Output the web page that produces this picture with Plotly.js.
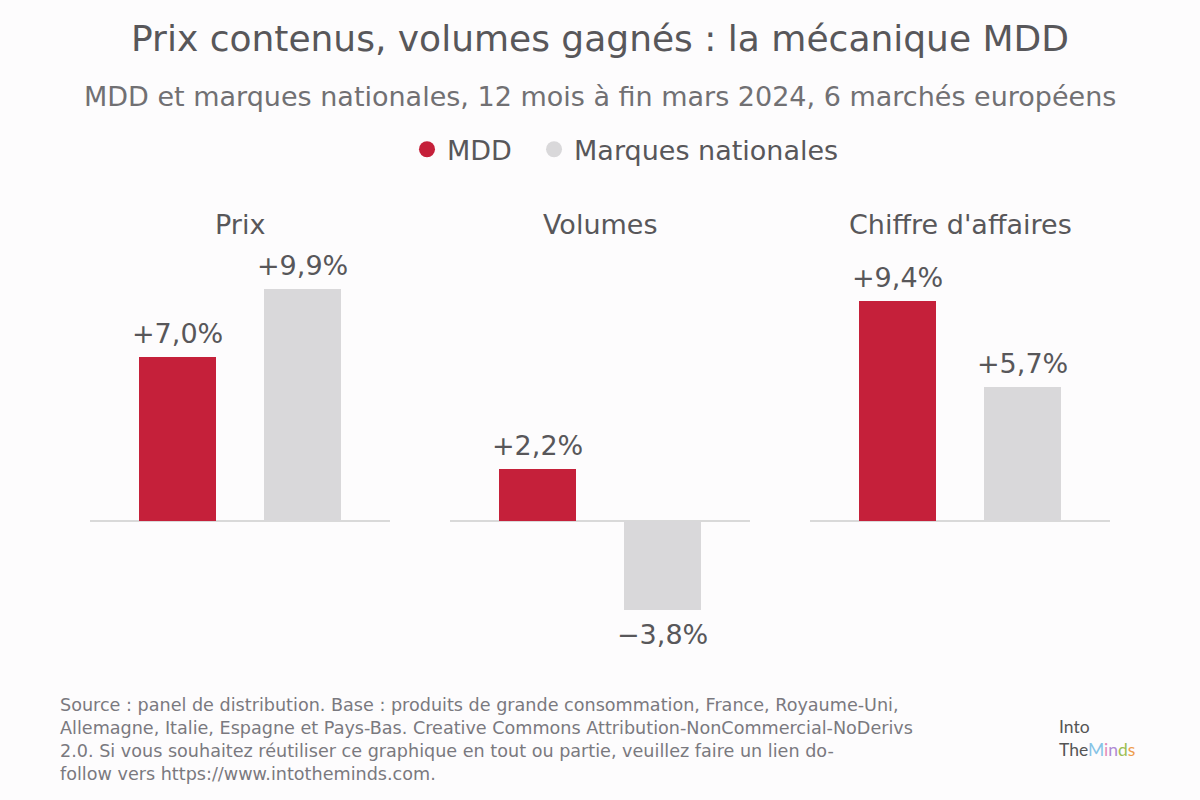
<!DOCTYPE html>
<html>
<head>
<meta charset="utf-8">
<script src="https://cdn.plot.ly/plotly-3.0.1.min.js"></script>
<style>html,body{margin:0;padding:0;background:#fdfcfd;}#chart{width:1200px;height:800px;}</style>
</head>
<body>
<div id="chart"></div>
<script>
const panels = ["Prix", "Volumes", "Chiffre d'affaires"];
const seriesNames = ["MDD", "Marques nationales"];
const mddValues = [7.0, 2.2, 9.4];
const nbValues = [9.9, -3.8, 5.7];
const seriesColors = ["#c5203a", "#d9d8da"];

const W = 1200, H = 800;
const M = {l: 90, r: 90, t: 262.5, b: 149.75};
const plotW = W - M.l - M.r, plotH = H - M.t - M.b;
const px = x => (x - M.l) / plotW;
const py = y => (H - M.b - y) / plotH;

const textColor = "#58575a";
const font = "DejaVu Sans, sans-serif";

function fmt(v) {
  const s = Math.abs(v).toFixed(1).replace(".", ",");
  return (v >= 0 ? "+" : "\u2212") + s + "%";
}

const domains = [[0, px(390)], [px(450), px(750)], [px(810), 1]];
const traces = [];
const annotations = [];
const layout = {
  width: W, height: H,
  margin: M,
  paper_bgcolor: "#fdfcfd",
  plot_bgcolor: "#fdfcfd",
  font: {family: font, color: textColor},
  showlegend: true,
  barmode: "group",
  bargap: 0,
  legend: {
    orientation: "h", x: px(407), xanchor: "left", y: py(149), yanchor: "middle",
    font: {size: 27, color: textColor, family: font}, bgcolor: "rgba(0,0,0,0)",
    itemclick: false, traceorder: "normal"
  },
  annotations: annotations
};

panels.forEach((p, i) => {
  const xa = i === 0 ? "x" : "x" + (i + 1);
  const ya = i === 0 ? "y" : "y" + (i + 1);
  const vals = [mddValues[i], nbValues[i]];
  traces.push({
    type: "bar", x: seriesNames, y: vals, xaxis: xa, yaxis: ya,
    marker: {color: seriesColors}, width: 0.62, showlegend: false,
    hoverinfo: "skip"
  });
  layout["xaxis" + (i === 0 ? "" : i + 1)] = {
    domain: domains[i], anchor: ya, type: "category",
    range: [-0.7, 1.7], showticklabels: false, showgrid: false,
    zeroline: false, showline: false, ticks: "", fixedrange: true
  };
  layout["yaxis" + (i === 0 ? "" : i + 1)] = {
    domain: [0, 1], anchor: xa, range: [-5.5, 11], showticklabels: false,
    showgrid: false, zeroline: true, zerolinecolor: "#d9d9d9", zerolinewidth: 2,
    showline: false, ticks: "", fixedrange: true
  };
  annotations.push({
    xref: "paper", yref: "paper", x: (domains[i][0] + domains[i][1]) / 2, y: py(224),
    text: p, showarrow: false, xanchor: "center", yanchor: "middle",
    font: {size: 27, color: textColor, family: font}
  });
  vals.forEach((v, j) => {
    annotations.push({
      xref: xa, yref: ya, x: seriesNames[j], y: v,
      text: fmt(v), showarrow: false, xanchor: "center",
      yanchor: v >= 0 ? "bottom" : "top", yshift: v >= 0 ? 6 : -7,
      font: {size: 27, color: textColor, family: font}
    });
  });
});

// legend entries (circle markers); trailing no-break spaces widen the gap between items
seriesNames.forEach((n, j) => {
  traces.push({
    type: "scatter", mode: "markers", x: [null], y: [null], xaxis: "x", yaxis: "y",
    name: j === 0 ? n + "\u00a0\u00a0" : n,
    marker: {color: seriesColors[j], size: 17, symbol: "circle"},
    showlegend: true, hoverinfo: "skip"
  });
});

annotations.push({
  xref: "paper", yref: "paper", x: 0.5, y: py(38), xanchor: "center", yanchor: "middle",
  text: "Prix contenus, volumes gagnés : la mécanique MDD", showarrow: false,
  font: {size: 36, color: textColor, family: font}
});
annotations.push({
  xref: "paper", yref: "paper", x: 0.5, y: py(96), xanchor: "center", yanchor: "middle",
  text: "MDD et marques nationales, 12 mois à fin mars 2024, 6 marchés européens", showarrow: false,
  font: {size: 27, color: "#717073", family: font}
});
annotations.push({
  xref: "paper", yref: "paper", x: px(58), y: py(693), xanchor: "left", yanchor: "top",
  align: "left", showarrow: false,
  text: "Source : panel de distribution. Base : produits de grande consommation, France, Royaume-Uni,<br>" +
        "Allemagne, Italie, Espagne et Pays-Bas. Creative Commons Attribution-NonCommercial-NoDerivs<br>" +
        "2.0. Si vous souhaitez réutiliser ce graphique en tout ou partie, veuillez faire un lien do-<br>" +
        "follow vers https://www.intotheminds.com.",
  font: {size: 17.6, color: "#7a797f", family: font}
});
// logo text
annotations.push({
  xref: "paper", yref: "paper", x: px(1057), y: py(738), xanchor: "left", yanchor: "middle",
  align: "left", showarrow: false,
  text: "Into<br>The<span style='color:#86c3e6'>M</span><span style='color:#e48ab6'>i</span><span style='color:#b08ad4'>n</span><span style='color:#9cbf52'>d</span><span style='color:#ee9c4c'>s</span>",
  font: {size: 17.5, color: "#555", family: "Lato, sans-serif"}
});

Plotly.newPlot("chart", traces, layout, {displayModeBar: false, staticPlot: true});
</script>
</body>
</html>
